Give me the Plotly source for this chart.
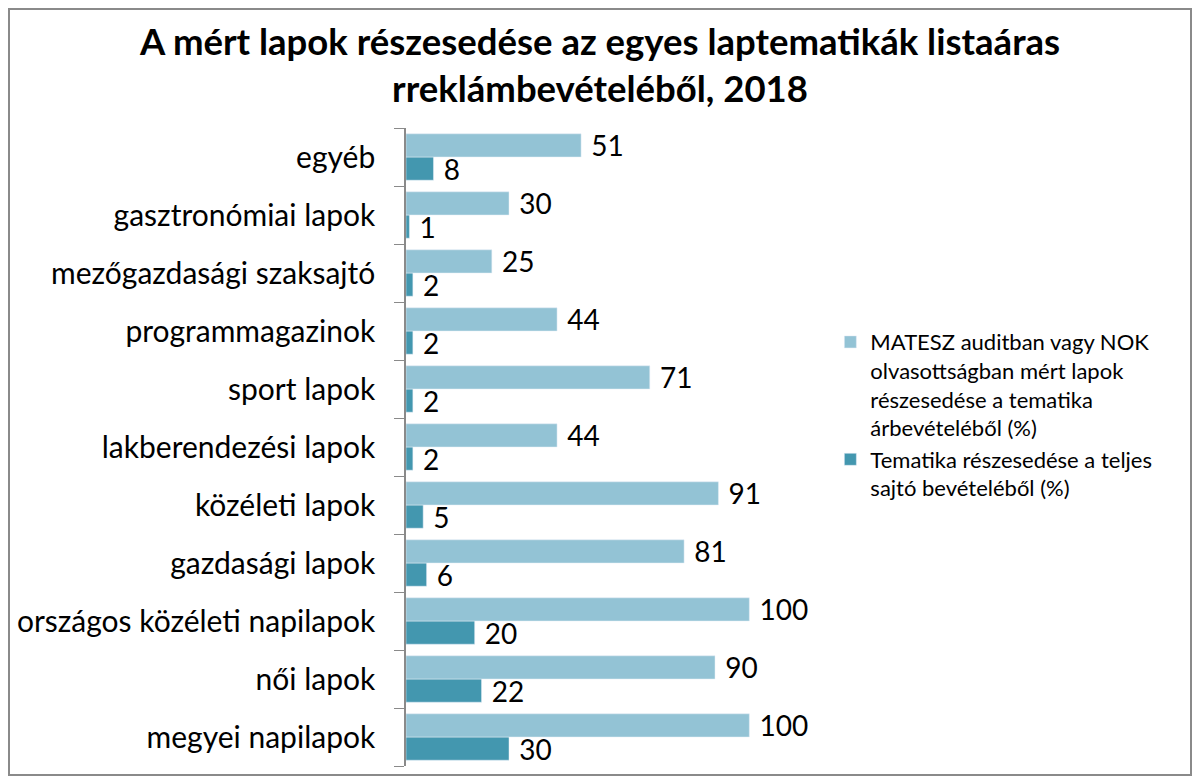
import plotly.graph_objects as go

# categories listed bottom to top, as drawn
categories = ["megyei napilapok", "női lapok", "országos közéleti napilapok",
              "gazdasági lapok", "közéleti lapok", "lakberendezési lapok",
              "sport lapok", "programmagazinok", "mezőgazdasági szaksajtó",
              "gasztronómiai lapok", "egyéb"]
matesz_share = [100, 90, 100, 81, 91, 44, 71, 44, 25, 30, 51]
theme_share = [30, 22, 20, 6, 5, 2, 2, 2, 2, 1, 8]

matesz_name = ("MATESZ auditban vagy NOK<br>olvasottságban mért lapok<br>"
               "részesedése a tematika<br>árbevételéből (%)")
theme_name = "Tematika részesedése a teljes<br>sajtó bevételéből (%)"

font = "Lato"
# page has an 8px body margin, so the figure is a bit smaller than the window
W, H = 1184, 768
ml, mr, mt, mb = 398, 374, 120, 10

fig = go.Figure()
# dark series first so it sits below the light one in each group
fig.add_trace(go.Bar(y=categories, x=theme_share, orientation="h", name=theme_name,
                     marker_color="#4397AF", text=theme_share,
                     texttemplate="\u00a0%{text}", textposition="outside",
                     constraintext="none",
                     textfont=dict(size=28, color="black", family=font), cliponaxis=False))
fig.add_trace(go.Bar(y=categories, x=matesz_share, orientation="h", name=matesz_name,
                     marker_color="#93C3D5", text=matesz_share,
                     texttemplate="\u00a0%{text}", textposition="outside",
                     constraintext="none",
                     textfont=dict(size=28, color="black", family=font), cliponaxis=False))

pw = W - ml - mr
ph = H - mt - mb
fig.add_shape(type="rect", xref="paper", yref="paper",
              x0=-(ml - 1) / pw, x1=1 + (mr - 1) / pw,
              y0=-(mb - 1) / ph, y1=1 + (mt - 1) / ph,
              line=dict(color="#8a8a8a", width=2))

fig.update_layout(
    width=W, height=H,
    margin=dict(l=ml, r=mr, t=mt, b=mb),
    paper_bgcolor="white", plot_bgcolor="white",
    barmode="group", bargap=0.2, bargroupgap=0,
    title=dict(text="<b>A mért lapok részesedése az egyes laptematikák listaáras<br>rreklámbevételéből, 2018</b>",
               x=0.5, xanchor="center", y=1 - 47 / H, yanchor="top",
               font=dict(family=font, size=36.5, color="black")),
    font=dict(family=font, color="black"),
    showlegend=True,
    legend=dict(x=1.03, xanchor="left", y=0.55, yanchor="middle", valign="top",
                traceorder="reversed", font=dict(size=22, family=font)),
    xaxis=dict(range=[0, 120], visible=False, showgrid=False),
    yaxis=dict(showline=True, linecolor="#8a8a8a", linewidth=1.5,
               ticks="outside", tickson="boundaries", ticklen=10, tickcolor="#8a8a8a",
               tickfont=dict(size=30, family=font, color="black"), ticksuffix="   "),
)

fig.write_html("out.html")
